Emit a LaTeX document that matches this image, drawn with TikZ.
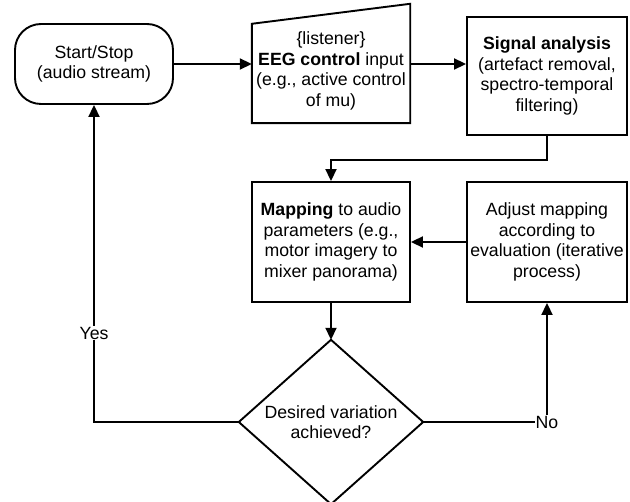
\documentclass[tikz,border=0pt]{standalone}
\usepackage{fontspec}
\setmainfont{Liberation Sans}
\usetikzlibrary{arrows.meta,calc}
\begin{document}
\begin{tikzpicture}[x=1pt,y=-1pt,
  every node/.style={font=\fontsize{17.7}{20.5}\selectfont, align=center, inner sep=2pt},
  ln/.style={line width=1.9pt},
  box/.style={draw, ln, minimum width=158pt, minimum height=120pt},
  arr/.style={ln, -{Triangle[length=12pt,width=11pt]}},
  lbl/.style={fill=white, inner sep=1pt}
]
\useasboundingbox (0,0) rectangle (630,502);

\node[draw, ln, rounded corners=26pt, minimum width=158pt, minimum height=80pt] (start) at (94,64) {Start/Stop\\(audio stream)};

\node[minimum width=158pt, minimum height=104pt] (eeg) at (331,71) {\{listener\}\\\textbf{EEG control} input\\(e.g., active control\\of mu)};
\draw[ln] (eeg.south west) -- (eeg.south east) -- ($(eeg.north east)+(0,-15)$) -- ($(eeg.north west)+(0,5)$) -- cycle;

\node[box, minimum width=160pt, minimum height=118pt] (sig) at (547,76) {\textbf{Signal analysis}\\(artefact removal,\\spectro-temporal\\filtering)};

\node[box] (map) at (331,242) {\textbf{Mapping} to audio\\parameters (e.g.,\\motor imagery to\\mixer panorama)};

\node[box, minimum width=160pt] (adj) at (547,242) {Adjust mapping\\according to\\evaluation (iterative\\process)};

\node[minimum width=184pt, minimum height=164pt] (dec) at (331,422) {Desired variation\\achieved?};
\draw[ln] (dec.north) -- (dec.east) -- (dec.south) -- (dec.west) -- cycle;

\draw[arr] (start.east) -- (start.east -| eeg.west);
\draw[arr] (eeg.east |- start.east) -- (sig.west |- start.east);
\draw[arr] (sig.south) -- ++(0,24) -| (map.north);
\draw[arr] (adj.west) -- (map.east);
\draw[arr] (map.south) -- (dec.north);
\draw[arr] (dec.west) -| node[pos=0.64, lbl] {Yes} (start.south);
\draw[arr] (dec.east) -| node[pos=0.5, lbl] {No} (adj.south);
\end{tikzpicture}
\end{document}
